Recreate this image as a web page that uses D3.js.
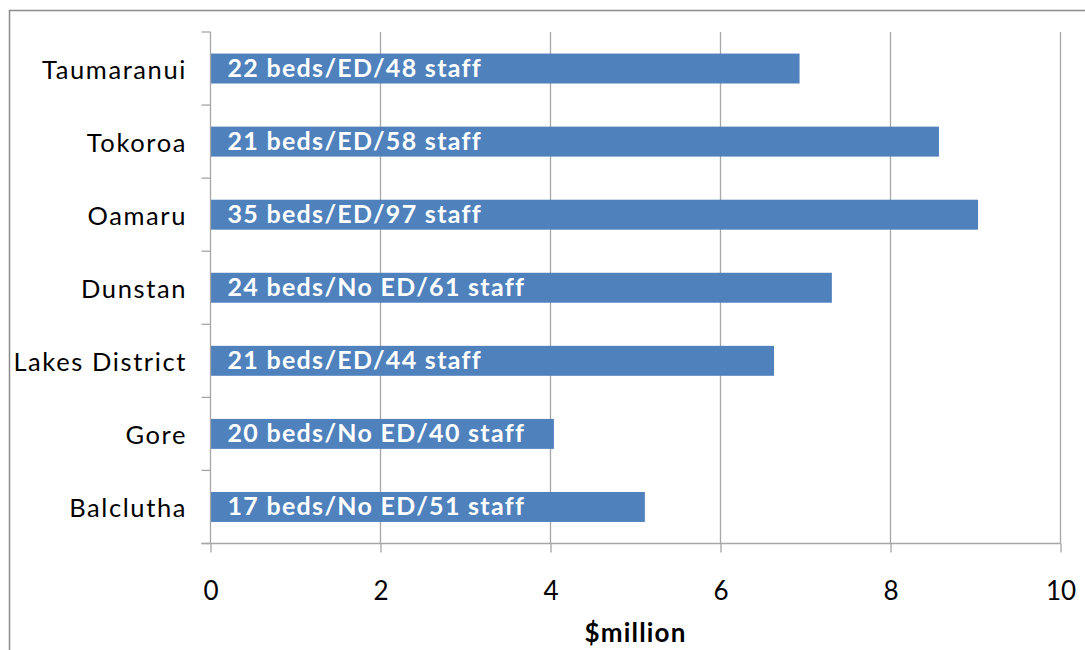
<!DOCTYPE html>
<html><head><meta charset="utf-8">
<script src="https://cdn.jsdelivr.net/npm/d3@7"></script>
<style>body{margin:0;background:#fff;} svg{display:block;}</style>
</head><body>
<svg id="chart" width="1085" height="650"></svg>
<script>
const categories = ["Taumaranui","Tokoroa","Oamaru","Dunstan","Lakes District","Gore","Balclutha"];
const values = [6.93, 8.57, 9.03, 7.31, 6.63, 4.04, 5.11];
const barLabels = ["22 beds/ED/48 staff","21 beds/ED/58 staff","35 beds/ED/97 staff","24 beds/No ED/61 staff","21 beds/ED/44 staff","20 beds/No ED/40 staff","17 beds/No ED/51 staff"];
const xTicks = [0,2,4,6,8,10];
const xTitle = "$million";

const svg = d3.select("#chart");
const font = "Lato, 'Open Sans', sans-serif";
const m = {left:210.5, right:1060.5, top:32, bottom:543.5};

// outer border
svg.append("rect").attr("x",9.5).attr("y",10.5).attr("width",1100).attr("height",700)
  .attr("fill","none").attr("stroke","#8c8c8c").attr("stroke-width",1.5);

const x = d3.scaleLinear().domain([0,10]).range([m.left,m.right]);
const y = d3.scaleBand().domain(categories).range([m.top,m.bottom]).paddingInner(0.59).paddingOuter(0.295);
const yb = d3.scaleBand().domain(categories).range([m.top,m.bottom]);

// gridlines
svg.append("g").selectAll("line").data(xTicks.filter(d=>d>0)).join("line")
  .attr("x1",d=>x(d)).attr("x2",d=>x(d)).attr("y1",m.top).attr("y2",m.bottom)
  .attr("stroke","#a6a6a6").attr("stroke-width",1.3);

// bars
svg.append("g").selectAll("rect").data(categories).join("rect")
  .attr("x",x(0)).attr("y",d=>y(d)).attr("height",y.bandwidth())
  .attr("width",(d,i)=>x(values[i])-x(0)).attr("fill","#4f81bd");

// bar labels
svg.append("g").selectAll("text").data(categories).join("text")
  .attr("x",x(0)+17).attr("y",d=>y(d)+y.bandwidth()/2+8)
  .attr("fill","#fff").attr("font-family",font).attr("font-weight","bold").attr("font-size",25)
  .attr("letter-spacing",1.3)
  .text((d,i)=>barLabels[i]);

// y axis
const yAxis = svg.append("g");
yAxis.append("line").attr("x1",m.left).attr("x2",m.left).attr("y1",m.top).attr("y2",m.bottom)
  .attr("stroke","#a6a6a6").attr("stroke-width",1.3);
const bounds = categories.map(c=>yb(c)).concat([m.bottom]);
yAxis.selectAll("line.tk").data(bounds).join("line").attr("class","tk")
  .attr("x1",m.left-9).attr("x2",m.left).attr("y1",d=>d).attr("y2",d=>d)
  .attr("stroke","#a6a6a6").attr("stroke-width",1.3);
yAxis.selectAll("text").data(categories).join("text")
  .attr("x",187).attr("y",d=>yb(d)+yb.bandwidth()/2+10).attr("text-anchor","end")
  .attr("font-family",font).attr("font-size",25.5).attr("letter-spacing",1.6).attr("fill","#000").text(d=>d);

// x axis
const xAxis = svg.append("g").attr("transform",`translate(0,${m.bottom})`)
  .call(d3.axisBottom(x).tickValues(xTicks).tickSize(9).tickPadding(29).tickSizeOuter(0));
xAxis.select(".domain").attr("stroke","#a6a6a6").attr("stroke-width",1.3).attr("d",`M${m.left-9},0H${m.right}`);
xAxis.selectAll(".tick line").attr("stroke","#a6a6a6").attr("stroke-width",1.3);
xAxis.selectAll(".tick text").attr("font-family",font).attr("font-size",26).attr("fill","#000");

svg.append("text").attr("x",(m.left+m.right)/2).attr("y",642).attr("text-anchor","middle")
  .attr("font-family",font).attr("font-weight","bold").attr("font-size",26).attr("letter-spacing",1.2)
  .attr("fill","#000").text(xTitle);
</script>
</body></html>
